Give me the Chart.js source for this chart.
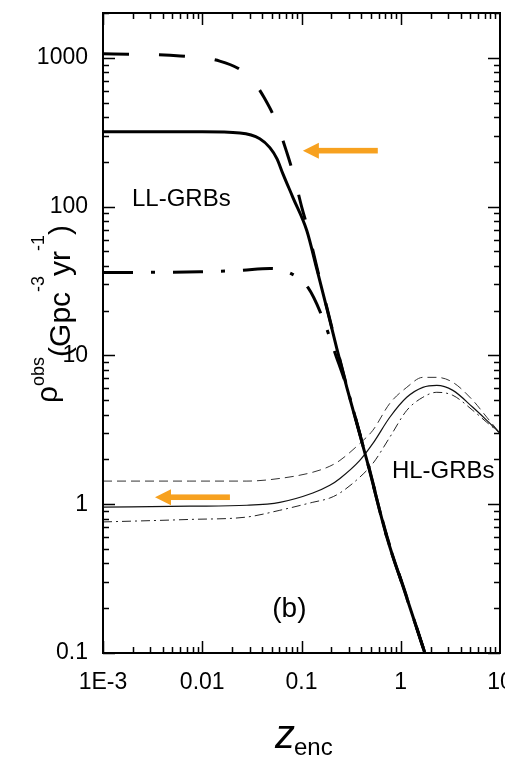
<!DOCTYPE html>
<html>
<head>
<meta charset="utf-8">
<script src="https://cdn.jsdelivr.net/npm/chart.js@4.4.0/dist/chart.umd.min.js"></script>
<style>
html, body { margin: 0; padding: 0; background: #fff; overflow: hidden; }
canvas { display: block; }
</style>
</head>
<body>
<canvas id="grafico" width="530" height="757"></canvas>
<script>
// LL-GRBs (curvas grossas)
const zLLSolid = [0.001, 0.01, 0.024, 0.038, 0.048, 0.0565, 0.065, 0.082, 0.113, 0.143, 0.18, 0.227, 0.286, 0.456, 0.725, 1.1, 1.75];
const rhoLLSolid = [318, 318, 312, 286, 249, 210, 166, 115, 69, 37.8, 20.7, 11.1, 6.1, 1.97, 0.60, 0.257, 0.1];

const zLLDash = [0.001, 0.006, 0.015, 0.025, 0.033, 0.042, 0.055, 0.0713, 0.0838, 0.101, 0.113, 0.143, 0.18, 0.227, 0.286, 0.456, 0.725, 1.1, 1.75];
const rhoLLDash = [1064, 1030, 950, 820, 690, 540, 378, 230, 161, 98, 75, 39, 21, 11.3, 6.2, 2.0, 0.61, 0.26, 0.1];

const zLLDot = [0.001, 0.0095, 0.024, 0.048, 0.075, 0.116, 0.16, 0.222, 0.286, 0.456, 0.725, 1.1, 1.75];
const rhoLLDot = [36, 36.5, 37.2, 38.4, 36, 28.6, 18.5, 10.0, 6.1, 1.97, 0.60, 0.257, 0.1];

// HL-GRBs (curvas finas)
const zHL = [0.001, 0.0075, 0.0282, 0.0605, 0.13, 0.193, 0.244, 0.387, 0.524, 0.776, 1.15, 1.67, 2.31, 3.35, 5.32, 7.36, 10];
const rhoHLSolid = [0.955, 0.97, 0.984, 1.03, 1.19, 1.34, 1.49, 1.97, 2.56, 3.84, 5.23, 6.10, 6.29, 5.82, 4.48, 3.66, 3.0];
const rhoHLDash = [1.43, 1.43, 1.43, 1.49, 1.64, 1.80, 1.97, 2.56, 3.14, 4.76, 6.10, 7.12, 7.12, 6.59, 4.99, 3.84, 3.0];
const rhoHLDot = [0.76, 0.79, 0.82, 0.91, 1.03, 1.10, 1.19, 1.52, 1.88, 2.82, 4.27, 5.23, 5.65, 5.39, 4.27, 3.55, 3.0];

// Eixos
const xTickValues = [0.001, 0.01, 0.1, 1, 10];
const xTickLabels = ['1E-3', '0.01', '0.1', '1', '10'];
const yTickValues = [0.1, 1, 10, 100, 1000];
const yTickLabels = ['0.1', '1', '10', '100', '1000'];

// Anotações (coordenadas nos valores dos eixos)
const textos = [
    { text: 'LL-GRBs', x: 0.00196, y: 101.6, size: 24, align: 'left' },
    { text: 'HL-GRBs', x: 0.814, y: 1.494, size: 24, align: 'left' },
    { text: '(b)', x: 0.0755, y: 0.174, size: 28, align: 'center' }
];
const setas = [
    { from: 0.587, to: 0.1033, y: 237.6 },
    { from: 0.0190, to: 0.00334, y: 1.114 }
];

const FONTE = "'Liberation Sans', Arial, sans-serif";

function pontos(xs, ys) {
    return xs.map((x, i) => ({ x: x, y: ys[i] }));
}

function serie(xs, ys, cor, largura, dash) {
    return {
        data: pontos(xs, ys),
        borderColor: cor,
        borderWidth: largura,
        borderDash: dash,
        pointRadius: 0,
        fill: false,
        cubicInterpolationMode: 'monotone'
    };
}

// Moldura, marcas internas, textos e setas
const decoracao = {
    id: 'decoracao',
    afterDatasetsDraw(chart) {
        const { ctx, chartArea: a, scales: { x, y } } = chart;
        ctx.save();
        ctx.strokeStyle = '#000';
        ctx.lineWidth = 1.5;
        ctx.beginPath();
        for (let e = -3; e < 1; e++) {
            for (let m = 1; m < 10; m++) {
                const v = m * Math.pow(10, e);
                const px = Math.round(x.getPixelForValue(v)) + 0.5;
                const len = m === 1 ? 12 : 6;
                ctx.moveTo(px, a.bottom); ctx.lineTo(px, a.bottom - len);
                ctx.moveTo(px, a.top); ctx.lineTo(px, a.top + len);
            }
        }
        for (let e = -1; e < 4; e++) {
            for (let m = 1; m < 10; m++) {
                const v = m * Math.pow(10, e);
                if (v > 2000) break;
                const py = Math.round(y.getPixelForValue(v)) + 0.5;
                const len = m === 1 ? 12 : 6;
                ctx.moveTo(a.left, py); ctx.lineTo(a.left + len, py);
                ctx.moveTo(a.right, py); ctx.lineTo(a.right - len, py);
            }
        }
        ctx.stroke();
        ctx.lineWidth = 2;
        ctx.strokeRect(a.left, a.top, a.right - a.left, a.bottom - a.top);

        // setas laranja
        ctx.fillStyle = '#F7A11F';
        setas.forEach(s => {
            const x0 = x.getPixelForValue(s.from);
            const x1 = x.getPixelForValue(s.to);
            const py = y.getPixelForValue(s.y);
            ctx.fillRect(x1 + 14, py - 2.8, x0 - x1 - 14, 5.6);
            ctx.beginPath();
            ctx.moveTo(x1, py);
            ctx.lineTo(x1 + 16, py - 8);
            ctx.lineTo(x1 + 16, py + 8);
            ctx.closePath();
            ctx.fill();
        });

        // rótulos
        ctx.fillStyle = '#000';
        ctx.textBaseline = 'alphabetic';
        textos.forEach(t => {
            ctx.font = t.size + 'px ' + FONTE;
            ctx.textAlign = t.align;
            ctx.fillText(t.text, x.getPixelForValue(t.x), y.getPixelForValue(t.y));
        });

        // título do eixo y: rho^obs (Gpc^-3 yr^-1)
        const partes = [
            { t: '\u03C1', size: 30, base: 57 },
            { t: 'obs', size: 18, base: 44 },
            { t: '(Gpc', size: 30, base: 70 },
            { t: '-3', size: 18, base: 44 },
            { t: 'yr', size: 30, base: 70 },
            { t: '-1', size: 18, base: 44 },
            { t: ')', size: 30, base: 70 }
        ];
        ctx.save();
        ctx.rotate(-Math.PI / 2);
        ctx.textAlign = 'left';
        let u = -403;
        partes.forEach(p => {
            ctx.font = p.size + 'px ' + FONTE;
            ctx.fillText(p.t, u, p.base);
            u += ctx.measureText(p.t).width;
        });
        ctx.restore();

        // título do eixo x: z_enc
        ctx.textAlign = 'left';
        ctx.font = 'italic 40px ' + FONTE;
        ctx.fillText('z', 275, 748);
        ctx.font = '24px ' + FONTE;
        ctx.fillText('enc', 294, 755);
        ctx.restore();
    }
};

const ctxRho = document.getElementById('grafico').getContext('2d');
const grafico = new Chart(ctxRho, {
    type: 'line',
    data: {
        datasets: [
            serie(zLLSolid, rhoLLSolid, '#000', 3, []),
            serie(zLLDash, rhoLLDash, '#000', 3, [26, 30]),
            serie(zLLDot, rhoLLDot, '#000', 3, [30, 18, 4, 18]),
            serie(zHL, rhoHLSolid, '#111', 1.2, []),
            serie(zHL, rhoHLDash, '#333', 1, [9, 5]),
            serie(zHL, rhoHLDot, '#222', 1, [9, 4, 2, 4])
        ]
    },
    options: {
        responsive: false,
        animation: false,
        devicePixelRatio: 1,
        layout: { padding: { left: 0, right: 30, top: 13, bottom: 0 } },
        plugins: { legend: { display: false }, tooltip: { enabled: false } },
        scales: {
            x: {
                type: 'logarithmic',
                min: 0.001,
                max: 10,
                grid: { display: false, drawTicks: false },
                border: { display: false },
                afterBuildTicks(s) { s.ticks = xTickValues.map(v => ({ value: v })); },
                afterFit(s) { s.height = 104; s.paddingLeft = 0; s.paddingRight = 0; },
                ticks: {
                    autoSkip: false,
                    maxRotation: 0,
                    padding: 16,
                    color: '#000',
                    font: { family: FONTE, size: 23 },
                    callback: (v, i) => xTickLabels[i]
                }
            },
            y: {
                type: 'logarithmic',
                min: 0.1,
                max: 2000,
                grid: { display: false, drawTicks: false },
                border: { display: false },
                afterBuildTicks(s) { s.ticks = yTickValues.map(v => ({ value: v })); },
                afterFit(s) { s.width = 103; s.paddingTop = 0; s.paddingBottom = 0; },
                ticks: {
                    autoSkip: false,
                    padding: 15,
                    color: '#000',
                    font: { family: FONTE, size: 23 },
                    callback: (v, i) => yTickLabels[i]
                }
            }
        }
    },
    plugins: [decoracao]
});
</script>
</body>
</html>
